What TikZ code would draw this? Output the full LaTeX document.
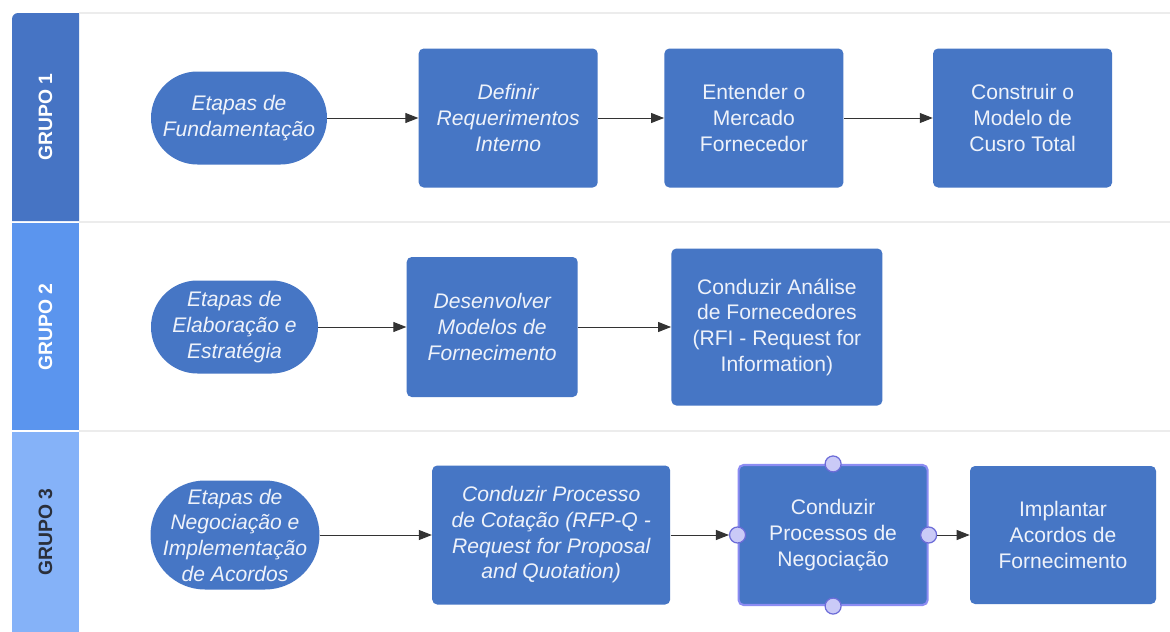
\documentclass[tikz,border=0pt]{standalone}
\usepackage{fontspec}
\setmainfont{Liberation Sans}
\usetikzlibrary{arrows.meta, positioning}
\definecolor{boxblue}{HTML}{4676C5}
\definecolor{boxtext}{HTML}{EEF2FA}
\definecolor{laneone}{HTML}{4674C4}
\definecolor{lanetwo}{HTML}{5B95EE}
\definecolor{lanethree}{HTML}{85B2F8}
\definecolor{lanetext}{HTML}{2A2F3A}
\definecolor{laneline}{HTML}{ECECEC}
\definecolor{arrowgray}{HTML}{333333}
\definecolor{selborder}{HTML}{8C8CF2}
\definecolor{handlefill}{HTML}{CACAF7}
\definecolor{handledraw}{HTML}{6C6CD8}
\newcommand{\boxfont}{\fontsize{12}{14.6}\selectfont}
\tikzstyle{etapa} = [rectangle, rounded corners=0.93cm, minimum width=3.52cm, minimum height=1.86cm, inner sep=1pt, align=center, fill=boxblue, text=boxtext, font=\boxfont\itshape]
\tikzstyle{process} = [rectangle, rounded corners=0.1cm, minimum width=3.58cm, minimum height=2.78cm, align=center, fill=boxblue, text=boxtext, font=\boxfont]
\tikzstyle{selected} = [draw=selborder, line width=1.2pt]
\tikzstyle{handle} = [circle, minimum size=0.32cm, inner sep=0pt, fill=handlefill, draw=handledraw, line width=0.7pt]
\tikzstyle{lanelabel} = [rotate=90, font=\fontsize{11}{13}\selectfont\bfseries]
\tikzstyle{arrow} = [line width=0.55pt, draw=arrowgray, ->, >={Triangle[length=2.6mm, width=2mm]}]

\begin{document}
\begin{tikzpicture}
	\useasboundingbox (0,0) rectangle (23.4,-12.64);
	\fill[white] (0,0) rectangle (23.4,-12.64);

	% lanes
	\fill[laneone] (0.24,-4.42) [rounded corners=0.12cm] -- (0.24,-0.26) [sharp corners] -- (1.58,-0.26) -- (1.58,-4.42) -- cycle;
	\fill[lanetwo] (0.24,-4.46) rectangle (1.58,-8.60);
	\fill[lanethree] (0.24,-8.64) rectangle (1.58,-12.64);
	\draw[laneline, line width=0.8pt] (1.58,-0.26) -- (23.4,-0.26);
	\draw[laneline, line width=0.8pt] (1.58,-4.44) -- (23.4,-4.44);
	\draw[laneline, line width=0.8pt] (1.58,-8.62) -- (23.4,-8.62);
	\node (g1) [lanelabel, text=white] at (0.91,-2.34) {GRUPO 1};
	\node (g2) [lanelabel, text=white] at (0.91,-6.54) {GRUPO 2};
	\node (g3) [lanelabel, text=lanetext] at (0.91,-10.64) {GRUPO 3};

	% grupo 1
	\node (fund) [etapa] at (4.78,-2.36) {Etapas de\\Fundamentação};
	\node (defreq) [process, right=1.82cm of fund, font=\boxfont\itshape] {Definir\\Requerimentos\\Interno};
		\draw [arrow] (fund) -- (defreq);
	\node (mercado) [process, right=1.32cm of defreq] {Entender o\\Mercado\\Fornecedor};
		\draw [arrow] (defreq) -- (mercado);
	\node (custo) [process, right=1.78cm of mercado] {Construir o\\Modelo de\\Cusro Total};
		\draw [arrow] (mercado) -- (custo);

	% grupo 2
	\node (elab) [etapa, minimum width=3.34cm] at (4.69,-6.54) {Etapas de\\Elaboração e\\Estratégia};
	\node (modelos) [process, minimum width=3.42cm, minimum height=2.80cm, right=1.76cm of elab, font=\boxfont\itshape] {Desenvolver\\Modelos de\\Fornecimento};
		\draw [arrow] (elab) -- (modelos);
	\node (analise) [process, minimum width=4.22cm, minimum height=3.14cm, right=1.86cm of modelos] {Conduzir Análise\\de Fornecedores\\(RFI - Request for\\Information)};
		\draw [arrow] (modelos) -- (analise);

	% grupo 3
	\node (negimp) [etapa, rounded corners=1.09cm, minimum width=3.38cm, minimum height=2.18cm] at (4.70,-10.70) {Etapas de\\Negociação e\\Implementação\\de Acordos};
	\node (cotacao) [process, minimum width=4.76cm, right=2.24cm of negimp, font=\boxfont\itshape] {Conduzir Processo\\de Cotação (RFP-Q -\\Request for Proposal\\and Quotation)};
		\draw [arrow] (negimp) -- (cotacao);
	\node (negoc) [process, selected, minimum width=3.78cm, minimum height=2.80cm, right=1.34cm of cotacao] {Conduzir\\Processos de\\Negociação};
	\node (hn) [handle] at (negoc.north) {};
	\node (hs) [handle] at (negoc.south) {};
	\node (hw) [handle] at (negoc.west) {};
	\node (he) [handle] at (negoc.east) {};
		\draw [arrow] (cotacao) -- (hw);
	\node (implant) [process, minimum width=3.72cm, minimum height=2.76cm, right=0.82cm of negoc] {Implantar\\Acordos de\\Fornecimento};
		\draw [arrow] (he) -- (implant);

\end{tikzpicture}
\end{document}
